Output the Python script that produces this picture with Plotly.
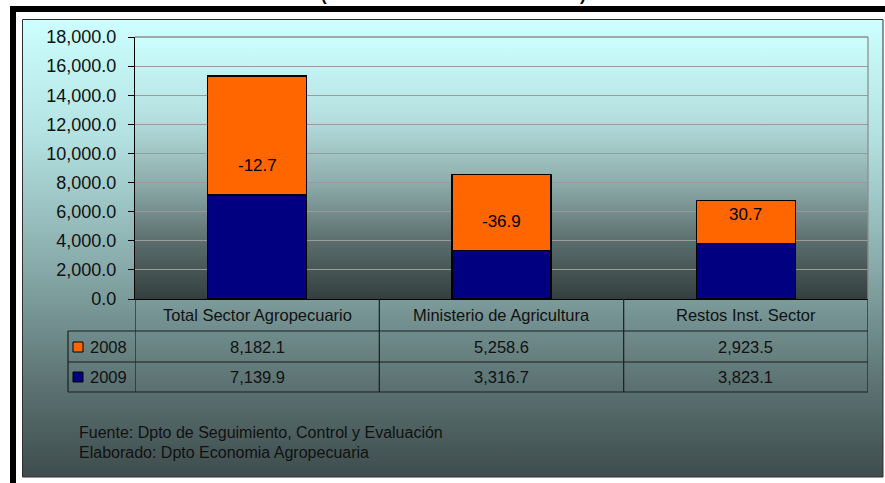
import base64
import plotly.graph_objects as go

# ---------------- data ----------------
categories = ["Total Sector Agropecuario", "Ministerio de Agricultura", "Restos Inst. Sector"]
series_names = ["2008", "2009"]
values_2008 = [8182.1, 5258.6, 2923.5]
values_2009 = [7139.9, 3316.7, 3823.1]
pct_change = [-12.7, -36.9, 30.7]
y_ticks = [0, 2000, 4000, 6000, 8000, 10000, 12000, 14000, 16000, 18000]
footer_lines = ["Fuente: Dpto de Seguimiento, Control y Evaluación",
                "Elaborado: Dpto Economia Agropecuaria"]

# ---------------- styling ----------------
W, H = 885, 483
FONT = "Arial, Liberation Sans, sans-serif"
C2008 = "#FF6600"
C2009 = "#000080"
LINE = "#1e1e1e"

def px(x):
    return x / W

def py(y):
    return 1 - y / H

# plot area in pixels
PL, PR, PT, PB = 135, 868, 37, 299


def gradient_uri(stops):
    s = "".join(f'<stop offset="{o}" stop-color="{c}"/>' for o, c in stops)
    svg = ('<svg xmlns="http://www.w3.org/2000/svg" width="10" height="100" viewBox="0 0 10 100" '
           'preserveAspectRatio="none"><defs><linearGradient id="g" x1="0" y1="0" x2="0" y2="1">'
           + s + '</linearGradient></defs><rect x="0" y="0" width="10" height="100" fill="url(#g)"/></svg>')
    return "data:image/svg+xml;base64," + base64.b64encode(svg.encode()).decode()


outer_grad = gradient_uri([(0, "#CCFFFF"), (0.25, "#B4E2E2"), (0.55, "#86A8A8"), (0.8, "#5C7272"), (1, "#3E4C4C")])
inner_grad = gradient_uri([(0, "#CCFFFF"), (0.3, "#B6E0E0"), (0.55, "#8FAEAD"), (0.8, "#566968"), (1, "#333F3E")])

fig = go.Figure()
fig.add_trace(go.Bar(x=categories, y=values_2009, name=series_names[1],
                     marker=dict(color=C2009, line=dict(color="#000000", width=1.3)),
                     hoverinfo="skip"))
fig.add_trace(go.Bar(x=categories, y=values_2008, name=series_names[0],
                     marker=dict(color=C2008, line=dict(color="#000000", width=1.3)),
                     hoverinfo="skip"))

annotations = []
# percent-change labels inside the 2008 segments
for c, v9, p in zip(categories, values_2009, pct_change):
    annotations.append(dict(x=c, y=v9 + 2000, xref="x", yref="y", text=f"{p:.1f}",
                            showarrow=False, font=dict(family=FONT, size=17, color="#000000"),
                            yanchor="middle"))

# table header row & value rows
for c, v8, v9 in zip(categories, values_2008, values_2009):
    annotations.append(dict(x=c, y=py(315), xref="x", yref="paper", text=c, showarrow=False,
                            font=dict(family=FONT, size=16.5, color="#111111"), yanchor="middle"))
    annotations.append(dict(x=c, y=py(347), xref="x", yref="paper", text=f"{v8:,.1f}", showarrow=False,
                            font=dict(family=FONT, size=16.5, color="#111111"), yanchor="middle"))
    annotations.append(dict(x=c, y=py(377), xref="x", yref="paper", text=f"{v9:,.1f}", showarrow=False,
                            font=dict(family=FONT, size=16.5, color="#111111"), yanchor="middle"))

for name, yy in zip(series_names, [347, 377]):
    annotations.append(dict(x=px(88), y=py(yy), xref="paper", yref="paper", text=name, showarrow=False,
                            xanchor="left", yanchor="middle",
                            font=dict(family=FONT, size=16.5, color="#111111")))

for line, yy in zip(footer_lines, [432, 452]):
    annotations.append(dict(x=px(77), y=py(yy), xref="paper", yref="paper", text=line, showarrow=False,
                            xanchor="left", yanchor="middle",
                            font=dict(family=FONT, size=16, color="#111111")))

# clipped title parentheses at very top
for ch, xx in [("(", 324), (")", 583)]:
    annotations.append(dict(x=px(xx), y=py(7), xref="paper", yref="paper", text=f"<b>{ch}</b>",
                            showarrow=False, xanchor="center", yanchor="bottom",
                            font=dict(family=FONT, size=17, color="#000000")))

shapes = []
# black frame
shapes.append(dict(type="rect", xref="paper", yref="paper", x0=px(10), x1=px(W + 5), y0=py(12), y1=py(6),
                   fillcolor="#000000", line=dict(width=0), layer="above"))
shapes.append(dict(type="rect", xref="paper", yref="paper", x0=px(10), x1=px(16), y0=py(H + 5), y1=py(6),
                   fillcolor="#000000", line=dict(width=0), layer="above"))
# chart area border
shapes.append(dict(type="rect", xref="paper", yref="paper", x0=px(22.5), x1=px(883), y0=py(477), y1=py(19.5),
                   line=dict(color="#2e2e2e", width=1), layer="above"))
# plot area border (top & right)
shapes.append(dict(type="line", xref="x domain", yref="y domain", x0=0, x1=1, y0=1, y1=1,
                   line=dict(color="#8E8E8E", width=1.3)))
shapes.append(dict(type="line", xref="x domain", yref="y domain", x0=1, x1=1, y0=0, y1=1,
                   line=dict(color="#8E8E8E", width=1.3)))
# table horizontal lines
for yy in [331, 362, 392]:
    shapes.append(dict(type="line", xref="paper", yref="paper", x0=px(68), x1=px(PR), y0=py(yy), y1=py(yy),
                       line=dict(color=LINE, width=1.2), layer="above"))
# table vertical lines (category boundaries)
n = len(categories)
for i in range(n + 1):
    shapes.append(dict(type="line", xref="x", yref="paper", x0=i - 0.5, x1=i - 0.5, y0=py(PB), y1=py(392),
                       line=dict(color=LINE, width=1.2), layer="above"))
shapes.append(dict(type="line", xref="paper", yref="paper", x0=px(68), x1=px(68), y0=py(331), y1=py(392),
                   line=dict(color=LINE, width=1.2), layer="above"))
# legend keys
for col, yy in zip([C2008, C2009], [347, 377]):
    shapes.append(dict(type="rect", xref="paper", yref="paper", x0=px(73), x1=px(83), y0=py(yy + 5), y1=py(yy - 5),
                       fillcolor=col, line=dict(color="#000000", width=1), layer="above"))

images = [
    dict(source=outer_grad, xref="paper", yref="paper", x=px(22.5), y=py(19.5), sizex=px(883 - 22.5),
         sizey=(477 - 19.5) / H, xanchor="left", yanchor="top", sizing="stretch", layer="below"),
    dict(source=inner_grad, xref="paper", yref="paper", x=px(PL), y=py(PT), sizex=px(PR - PL),
         sizey=(PB - PT) / H, xanchor="left", yanchor="top", sizing="stretch", layer="below"),
]

fig.update_layout(
    width=W, height=H, autosize=False,
    margin=dict(l=0, r=0, t=0, b=0, pad=0, autoexpand=False),
    paper_bgcolor="#FFFFFF", plot_bgcolor="rgba(0,0,0,0)",
    barmode="stack", bargap=0.595, showlegend=False,
    font=dict(family=FONT, color="#000000"),
    xaxis=dict(domain=[px(PL), px(PR)], showticklabels=False, ticks="", showgrid=False,
               showline=True, linecolor="#000000", linewidth=1.3, zeroline=False, automargin=False,
               range=[-0.5, n - 0.5], fixedrange=True),
    yaxis=dict(domain=[py(PB), py(PT)], range=[0, 18000], tickvals=y_ticks, tickformat=",.1f",
               ticks="outside", ticklen=6, tickcolor="#000000", tickwidth=1,
               showline=True, linecolor="#000000", linewidth=1.3, automargin=False,
               showgrid=True, gridcolor="#9A9A9A", gridwidth=1.2, zeroline=False,
               tickfont=dict(family=FONT, size=18, color="#111111"), ticklabelstandoff=8,
               fixedrange=True),
    annotations=annotations, shapes=shapes, images=images,
)

post = ("document.body.style.margin='0';document.body.style.overflow='hidden';"
        "var d=document.getElementById('{plot_id}');d.style.position='absolute';"
        "d.style.left='0px';d.style.top='0px';")
fig.write_html("out.html", config={"displayModeBar": False}, post_script=post)
